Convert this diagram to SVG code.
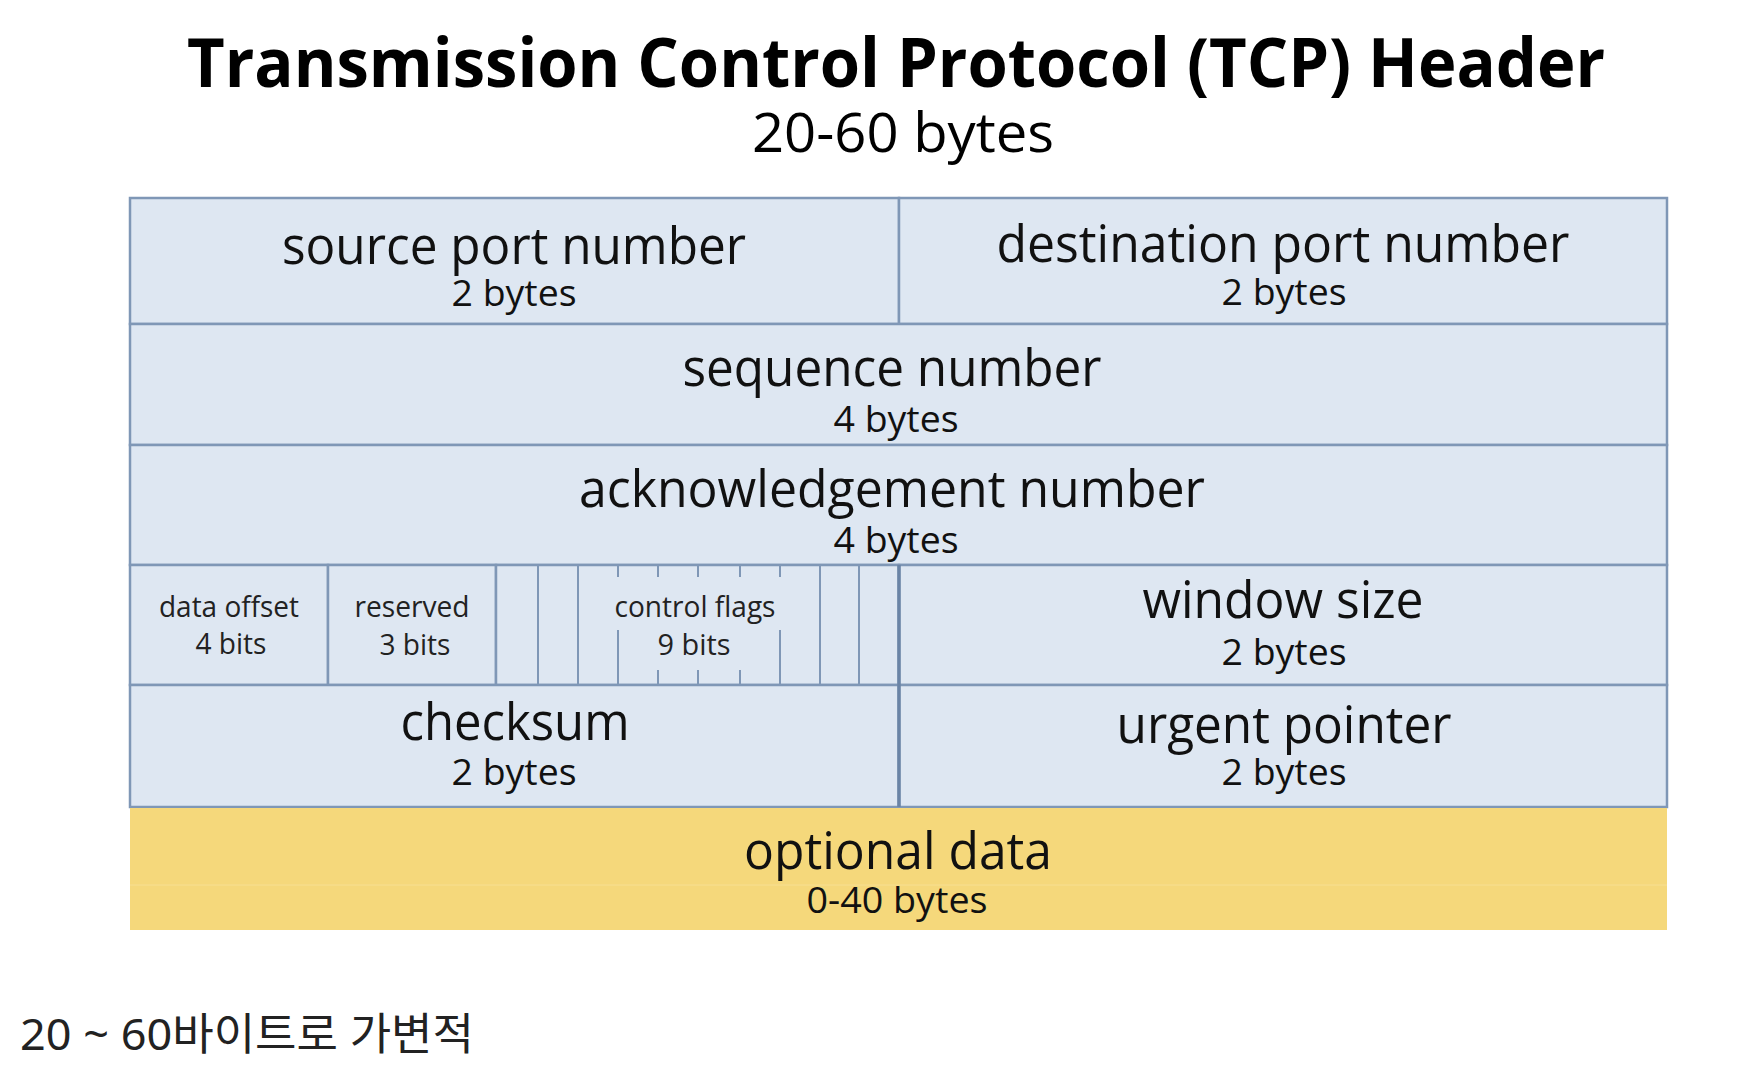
<svg xmlns="http://www.w3.org/2000/svg" width="1744" height="1072" viewBox="0 0 1744 1072">
<style>
.cell{fill:#DEE7F2;stroke:#7F97B6;stroke-width:2.5}
.opt{fill:#F5D87B}
.ln{stroke:#7F97B6;stroke-width:2;fill:none}
.div{stroke:#6A84A6;stroke-width:3.5;fill:none}
.big{font-family:"Open Sans","Noto Sans",sans-serif;font-size:51px;fill:#111;text-anchor:middle}
.sub{font-family:"Open Sans","Noto Sans",sans-serif;font-size:36px;fill:#111;text-anchor:middle}
.sm{font-family:"Open Sans","Noto Sans",sans-serif;font-size:30px;fill:#222;text-anchor:middle}
.title{font-family:"Open Sans","Noto Sans",sans-serif;font-size:68px;font-weight:bold;fill:#000;text-anchor:middle}
.st{font-family:"Open Sans","Noto Sans",sans-serif;font-size:55px;fill:#000;text-anchor:middle}
.kr{font-family:"Noto Sans","Noto Sans CJK KR",sans-serif;font-size:44px;fill:#222}
</style>
<rect width="1744" height="1072" fill="#fff"/>
<g id="title">
<text class="title" x="896" y="87" textLength="1418" lengthAdjust="spacingAndGlyphs">Transmission Control Protocol (TCP) Header</text>
<text class="st" x="903" y="152" textLength="302" lengthAdjust="spacingAndGlyphs">20-60 bytes</text>
</g>
<g id="source-port">
<rect class="cell" x="130" y="198" width="769" height="126"/>
<text class="big" x="514" y="264" textLength="464" lengthAdjust="spacingAndGlyphs">source port number</text>
<text class="sub" x="514" y="306" textLength="125" lengthAdjust="spacingAndGlyphs">2 bytes</text>
</g>
<g id="destination-port">
<rect class="cell" x="899" y="198" width="768" height="126"/>
<text class="big" x="1283" y="262" textLength="573" lengthAdjust="spacingAndGlyphs">destination port number</text>
<text class="sub" x="1284" y="305" textLength="125" lengthAdjust="spacingAndGlyphs">2 bytes</text>
</g>
<g id="sequence-number">
<rect class="cell" x="130" y="324" width="1537" height="121"/>
<text class="big" x="892" y="386" textLength="419" lengthAdjust="spacingAndGlyphs">sequence number</text>
<text class="sub" x="896" y="432" textLength="125" lengthAdjust="spacingAndGlyphs">4 bytes</text>
</g>
<g id="acknowledgement-number">
<rect class="cell" x="130" y="445" width="1537" height="120"/>
<text class="big" x="892" y="507" textLength="626" lengthAdjust="spacingAndGlyphs">acknowledgement number</text>
<text class="sub" x="896" y="553" textLength="125" lengthAdjust="spacingAndGlyphs">4 bytes</text>
</g>
<g id="data-offset">
<rect class="cell" x="130" y="565" width="198" height="120"/>
<text class="sm" x="229" y="617" textLength="140" lengthAdjust="spacingAndGlyphs">data offset</text>
<text class="sm" x="231" y="654" textLength="71" lengthAdjust="spacingAndGlyphs">4 bits</text>
</g>
<g id="reserved">
<rect class="cell" x="328" y="565" width="168" height="120"/>
<text class="sm" x="412" y="617" textLength="115" lengthAdjust="spacingAndGlyphs">reserved</text>
<text class="sm" x="415" y="655" textLength="71" lengthAdjust="spacingAndGlyphs">3 bits</text>
</g>
<g id="control-flags">
<rect class="cell" x="496" y="565" width="403" height="120"/>
<path class="ln" d="M538 565V685M578 565V685M820 565V685M859 565V685M618 565V577M618 630V685M780 565V577M780 630V685M658 565V577M658 670V685M698 565V577M698 670V685M740 565V577M740 670V685"/>
<text class="sm" x="695" y="617" textLength="161" lengthAdjust="spacingAndGlyphs">control flags</text>
<text class="sm" x="694" y="655" textLength="73" lengthAdjust="spacingAndGlyphs">9 bits</text>
</g>
<g id="window-size">
<rect class="cell" x="899" y="565" width="768" height="120"/>
<text class="big" x="1283" y="618" textLength="281" lengthAdjust="spacingAndGlyphs">window size</text>
<text class="sub" x="1284" y="665" textLength="125" lengthAdjust="spacingAndGlyphs">2 bytes</text>
</g>
<g id="checksum">
<rect class="cell" x="130" y="685" width="769" height="122"/>
<text class="big" x="515" y="740" textLength="229" lengthAdjust="spacingAndGlyphs">checksum</text>
<text class="sub" x="514" y="785" textLength="125" lengthAdjust="spacingAndGlyphs">2 bytes</text>
</g>
<g id="urgent-pointer">
<rect class="cell" x="899" y="685" width="768" height="122"/>
<text class="big" x="1284" y="743" textLength="335" lengthAdjust="spacingAndGlyphs">urgent pointer</text>
<text class="sub" x="1284" y="785" textLength="125" lengthAdjust="spacingAndGlyphs">2 bytes</text>
</g>
<g id="optional-data">
<rect class="opt" x="130" y="808" width="1537" height="122"/>
<line x1="130" y1="885" x2="1667" y2="885" stroke="#F7DF93" stroke-width="1"/>
<text class="big" x="898" y="869" textLength="308" lengthAdjust="spacingAndGlyphs">optional data</text>
<text class="sub" x="897" y="913" textLength="181" lengthAdjust="spacingAndGlyphs">0-40 bytes</text>
</g>
<g id="connectors">
<path class="div" d="M899 565V807"/>
</g>
<g id="note">
<text class="kr" x="20" y="1050" textLength="454" lengthAdjust="spacingAndGlyphs">20 ~ 60바이트로 가변적</text>
</g>
</svg>
